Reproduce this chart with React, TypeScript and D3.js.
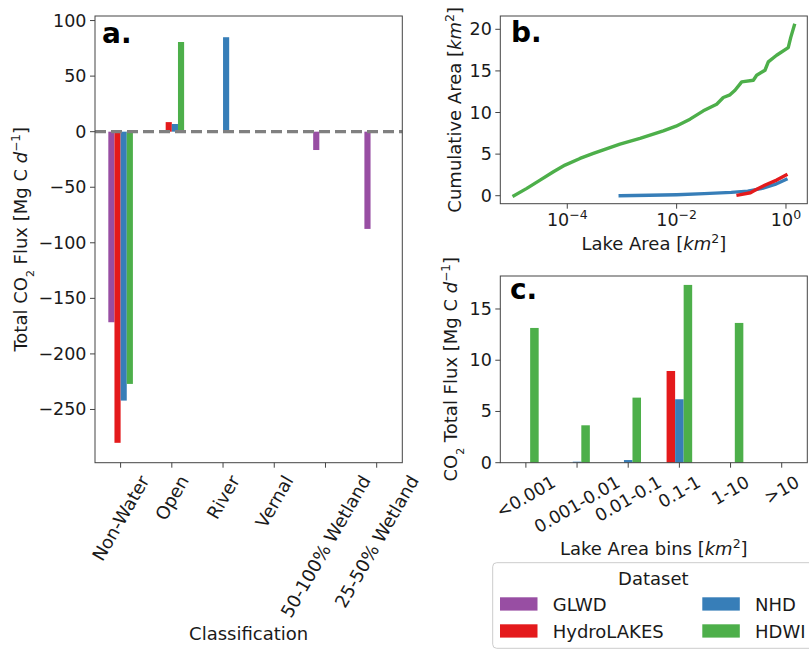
import * as d3 from "d3";

/* ---------------- data ---------------- */

const classes = ["Non-Water", "Open", "River", "Vernal", "50-100% Wetland", "25-50% Wetland"];
const fluxGLWD = [-171.5, 0, 0, 0, -16.5, -87.5];
const fluxHydro = [-280, 8.6, 0, 0, 0, 0];
const fluxNHD = [-242, 6.9, 85, 0, 0, 0];
const fluxHDWI = [-227, 80.7, 0, 0, 0, 0];

// panel b: cumulative area vs lake area (km2)
const hdwiArea = [1.06e-5, 1.82e-5, 3.18e-5, 5.58e-5, 9.1e-5, 1.71e-4, 3.0e-4, 9.2e-4, 2.14e-3, 5.7e-3,
  9.75e-3, 0.0176, 0.0308, 0.054, 0.0714, 0.0946, 0.117, 0.155, 0.253, 0.291, 0.413, 0.475, 0.674, 1.1, 1.22, 1.42];
const hdwiCum = [0, 0.88, 1.88, 2.88, 3.68, 4.48, 5.08, 6.2, 6.88, 7.8,
  8.36, 9.2, 10.2, 11.0, 11.8, 12.12, 12.68, 13.68, 13.88, 14.48, 15.08, 16.08, 16.88, 17.8, 19.0, 20.48];
const nhdArea = [9.3e-4, 3.2e-3, 0.01, 0.032, 0.1, 0.2, 0.35, 0.63, 1.0];
const nhdCum = [0, 0.05, 0.12, 0.25, 0.4, 0.55, 0.85, 1.35, 1.95];
const hydroArea = [0.133, 0.224, 0.275, 0.417, 0.676, 1.0];
const hydroCum = [0.08, 0.36, 0.68, 1.28, 1.88, 2.48];

// panel c
const bins = ["<0.001", "0.001-0.01", "0.01-0.1", "0.1-1", "1-10", ">10"];
const binHydro = [0, 0, 0, 8.95, 0, 0];
const binNHD = [0, 0.1, 0.26, 6.19, 0, 0];
const binHDWI = [13.15, 3.65, 6.35, 17.35, 13.64, 0];

const logTicks = [1e-4, 1e-2, 1];
const logTickExp = ["\u22124", "\u22122", "0"];

const C = { glwd: "#984ea3", hydro: "#e41a1c", nhd: "#377eb8", hdwi: "#4daf4a" };
const FONT = '"DejaVu Sans", sans-serif';
const TICK_FS = 17.5;
const LAB_FS = 18;
const AXC = "#444";

let ctx: CanvasRenderingContext2D | null = null;
function textW(s: string, size: number) {
  if (!ctx) ctx = document.createElement("canvas").getContext("2d");
  if (!ctx) return s.length * size * 0.6;
  ctx.font = `${size}px "DejaVu Sans"`;
  return ctx.measureText(s).width;
}

// matplotlib style rotated label: bbox centered on tick, top at y0
function RotLabel({ x, y0, text, angle, size }: { x: number; y0: number; text: string; angle: number; size: number }) {
  const w = textW(text, size);
  const h = size * 1.17;
  const r = (angle * Math.PI) / 180;
  const cy = y0 + (w * Math.sin(r) + h * Math.cos(r)) / 2;
  return (
    <text transform={`translate(${x},${cy}) rotate(${-angle})`} textAnchor="middle" dominantBaseline="central"
      fontSize={size}>{text}</text>
  );
}

function YTicks({ scale, ticks, x }: any) {
  return (
    <g>
      {ticks.map((t: number) => (
        <g key={t}>
          <line x1={x - 5} x2={x} y1={scale(t)} y2={scale(t)} stroke={AXC} />
          <text x={x - 8.5} y={scale(t)} textAnchor="end" dominantBaseline="central" fontSize={TICK_FS}>
            {String(t).replace("-", "\u2212")}
          </text>
        </g>
      ))}
    </g>
  );
}

export default function App() {
  /* panel a */
  const a = { l: 95, r: 402.3, t: 16, b: 462.7 };
  const xa = d3.scaleLinear().domain([-0.5, 5.5]).range([a.l, a.r]);
  const ya = d3.scaleLinear().domain([-297.9, 104.1]).range([a.b, a.t]);
  const wa = 0.12;
  const seriesA = [
    { v: fluxGLWD, c: C.glwd, off: -1.5 },
    { v: fluxHydro, c: C.hydro, off: -0.5 },
    { v: fluxNHD, c: C.nhd, off: 0.5 },
    { v: fluxHDWI, c: C.hdwi, off: 1.5 },
  ];

  /* panel b */
  const b = { l: 500.3, r: 807.3, t: 16, b: 203.7 };
  const xb = d3.scaleLog().domain([Math.pow(10, -5.225), Math.pow(10, 0.39)]).range([b.l, b.r]);
  const yb = d3.scaleLinear().domain([-0.96, 21.6]).range([b.b, b.t]);
  const line = d3.line<[number, number]>().x((d) => xb(d[0])).y((d) => yb(d[1]));
  const linesB = [
    { x: hdwiArea, y: hdwiCum, c: C.hdwi },
    { x: nhdArea, y: nhdCum, c: C.nhd },
    { x: hydroArea, y: hydroCum, c: C.hydro },
  ];

  /* panel c */
  const c = { l: 500.3, r: 807.3, t: 276, b: 462.7 };
  const xc = d3.scaleLinear().domain([-0.5, 5.5]).range([c.l, c.r]);
  const yc = d3.scaleLinear().domain([0, 18.22]).range([c.b, c.t]);
  const wc = 1 / 6;
  const seriesC = [
    { v: binHydro, c: C.hydro, off: -1 },
    { v: binNHD, c: C.nhd, off: 0 },
    { v: binHDWI, c: C.hdwi, off: 1 },
  ];

  const legendItems = [
    { name: "GLWD", c: C.glwd, col: 0, row: 0 },
    { name: "HydroLAKES", c: C.hydro, col: 0, row: 1 },
    { name: "NHD", c: C.nhd, col: 1, row: 0 },
    { name: "HDWI", c: C.hdwi, col: 1, row: 1 },
  ];

  return (
    <svg width={809} height={649} style={{ position: "absolute", left: 0, top: 0 }} fontFamily={FONT} fill="#1a1a1a">
      <rect width={809} height={649} fill="#fff" />

      {/* ---------- panel a ---------- */}
      <g>
        {seriesA.map((s) =>
          s.v.map((v, i) =>
            v === 0 ? null : (
              <rect key={s.c + i} x={xa(i + (s.off - 0.5) * wa)} width={xa(wa) - xa(0)}
                y={Math.min(ya(v), ya(0))} height={Math.abs(ya(v) - ya(0))} fill={s.c} />
            )
          )
        )}
        <line x1={a.l} x2={a.r} y1={ya(0)} y2={ya(0)} stroke="#808080" strokeWidth={3.2} strokeDasharray="11,5" />
        <rect x={a.l} y={a.t} width={a.r - a.l} height={a.b - a.t} fill="none" stroke={AXC} />
        <YTicks scale={ya} ticks={[100, 50, 0, -50, -100, -150, -200, -250]} x={a.l} />
        {classes.map((cl, i) => (
          <g key={cl}>
            <line x1={xa(i)} x2={xa(i)} y1={a.b} y2={a.b + 5} stroke={AXC} />
            <RotLabel x={xa(i)} y0={a.b + 9} text={cl} angle={60} size={18} />
          </g>
        ))}
        <text x={102} y={42.7} fontSize={28} fontWeight="bold" fill="#000">a.</text>
        <text x={(a.l + a.r) / 2} y={640} textAnchor="middle" fontSize={LAB_FS}>Classification</text>
        <text transform={`translate(27,${(a.t + a.b) / 2}) rotate(-90)`} textAnchor="middle" fontSize={LAB_FS}>
          Total CO<tspan baseline-shift="sub" fontSize={11}>2</tspan> Flux [Mg C <tspan fontStyle="italic">d</tspan>
          <tspan baseline-shift="super" fontSize={12}>{"\u22121"}</tspan>]
        </text>
      </g>

      {/* ---------- panel b ---------- */}
      <g>
        <defs>
          <clipPath id="clipb"><rect x={b.l} y={b.t} width={b.r - b.l} height={b.b - b.t} /></clipPath>
        </defs>
        <g clipPath="url(#clipb)">
          {linesB.map((s) => (
            <path key={s.c} d={line(s.x.map((x, i) => [x, s.y[i]] as [number, number])) || ""} fill="none"
              stroke={s.c} strokeWidth={3.4} strokeLinejoin="round" strokeLinecap="square" />
          ))}
        </g>
        <rect x={b.l} y={b.t} width={b.r - b.l} height={b.b - b.t} fill="none" stroke={AXC} />
        <YTicks scale={yb} ticks={[0, 5, 10, 15, 20]} x={b.l} />
        {logTicks.map((t, i) => (
          <g key={t}>
            <line x1={xb(t)} x2={xb(t)} y1={b.b} y2={b.b + 5} stroke={AXC} />
            <text x={xb(t)} y={226} textAnchor="middle" fontSize={TICK_FS}>
              10<tspan baseline-shift="super" fontSize={12.5}>{logTickExp[i]}</tspan>
            </text>
          </g>
        ))}
        <text x={511} y={42.3} fontSize={28} fontWeight="bold" fill="#000">b.</text>
        <text x={(b.l + b.r) / 2} y={250} textAnchor="middle" fontSize={LAB_FS}>
          Lake Area [<tspan fontStyle="italic">km</tspan><tspan baseline-shift="super" fontSize={12.5}>2</tspan>]
        </text>
        <text transform={`translate(461,${(b.t + b.b) / 2}) rotate(-90)`} textAnchor="middle" fontSize={LAB_FS}>
          Cumulative Area [<tspan fontStyle="italic">km</tspan><tspan baseline-shift="super" fontSize={12.5}>2</tspan>]
        </text>
      </g>

      {/* ---------- panel c ---------- */}
      <g>
        {seriesC.map((s) =>
          s.v.map((v, i) =>
            v === 0 ? null : (
              <rect key={s.c + i} x={xc(i + (s.off - 0.5) * wc)} width={xc(wc) - xc(0)}
                y={yc(v)} height={yc(0) - yc(v)} fill={s.c} />
            )
          )
        )}
        <rect x={c.l} y={c.t} width={c.r - c.l} height={c.b - c.t} fill="none" stroke={AXC} />
        <YTicks scale={yc} ticks={[0, 5, 10, 15]} x={c.l} />
        {bins.map((bn, i) => (
          <g key={bn}>
            <line x1={xc(i)} x2={xc(i)} y1={c.b} y2={c.b + 5} stroke={AXC} />
            <RotLabel x={xc(i)} y0={c.b + 9} text={bn} angle={30} size={17.5} />
          </g>
        ))}
        <text x={510} y={299.3} fontSize={28} fontWeight="bold" fill="#000">c.</text>
        <text x={(c.l + c.r) / 2} y={555} textAnchor="middle" fontSize={LAB_FS}>
          Lake Area bins [<tspan fontStyle="italic">km</tspan><tspan baseline-shift="super" fontSize={12.5}>2</tspan>]
        </text>
        <text transform={`translate(457,${(c.t + c.b) / 2}) rotate(-90)`} textAnchor="middle" fontSize={LAB_FS}>
          CO<tspan baseline-shift="sub" fontSize={11}>2</tspan> Total Flux [Mg C <tspan fontStyle="italic">d</tspan>
          <tspan baseline-shift="super" fontSize={12}>{"\u22121"}</tspan>]
        </text>
      </g>

      {/* ---------- legend ---------- */}
      <g>
        <rect x={492.7} y={562.7} width={322} height={85.6} rx={4} fill="#fff" stroke="#ccc" />
        <text x={653.3} y={584.5} textAnchor="middle" fontSize={18}>Dataset</text>
        {legendItems.map((it) => (
          <g key={it.name}>
            <rect x={it.col ? 702.3 : 500} y={597.3 + it.row * 27} width={37.5} height={13.3} fill={it.c} />
            <text x={it.col ? 755 : 552.7} y={610.5 + it.row * 27} fontSize={18}>{it.name}</text>
          </g>
        ))}
      </g>
    </svg>
  );
}
